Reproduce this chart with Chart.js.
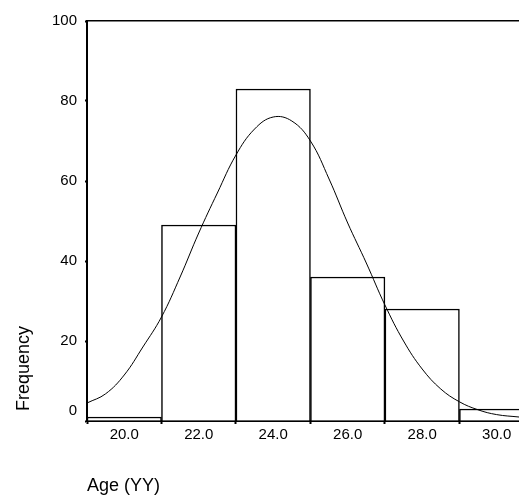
<!DOCTYPE html>
<html lang="en">
<head>
    <meta charset="UTF-8">
    <title>Age histogram</title>
    <script src="https://cdn.jsdelivr.net/npm/chart.js"></script>
    <style>
        body { margin: 0; background: #fff; }
        .chart-box { width: 519px; height: 497px; }
    </style>
</head>
<body>
    <div class="chart-box">
        <canvas id="ageChart"></canvas>
    </div>

    <script>
        // histogram bins (centre of each 2-year bin) and counts
        var binCentres = [20, 22, 24, 26, 28, 30];
        var binCounts = [1, 49, 83, 36, 28, 3];

        // normal curve
        var curveAges = [19, 19.5, 20, 20.5, 21, 21.5, 22, 22.5, 23, 23.5, 24, 24.5, 25, 25.5, 26, 26.5, 27, 27.5, 28, 28.5, 29, 29.5, 30, 30.6];
        var curveFreq = [4.5, 6.8, 11.5, 18.5, 26, 36, 47, 57, 66.5, 73, 76, 75, 70, 60.5, 49.5, 39.5, 29, 20, 13, 8, 4.8, 2.8, 1.6, 1];

        var xTicks = [20, 22, 24, 26, 28, 30];
        var yTicks = [0, 20, 40, 60, 80, 100];

        var tickFont = { family: '"Liberation Sans", Arial, sans-serif', size: 15 };
        var titleFont = { family: '"Liberation Sans", Arial, sans-serif', size: 18 };

        // SPSS lifts the "0" label above the x axis
        var zeroLabel = {
            id: 'zeroLabel',
            afterDraw: function (chart) {
                var ctx = chart.ctx;
                var y = chart.scales.y;
                ctx.save();
                ctx.font = '15px "Liberation Sans", Arial, sans-serif';
                ctx.fillStyle = '#000';
                ctx.textAlign = 'right';
                ctx.textBaseline = 'middle';
                ctx.fillText('0', y.right - 10, y.getPixelForValue(0) - 10);
                ctx.restore();
            }
        };

        var ctx = document.getElementById('ageChart').getContext('2d');
        var ageChart = new Chart(ctx, {
            type: 'bar',
            data: {
                datasets: [{
                    type: 'line',
                    data: curveAges.map(function (a, i) { return { x: a, y: curveFreq[i] }; }),
                    borderColor: '#000',
                    borderWidth: 1,
                    pointRadius: 0,
                    fill: false,
                    tension: 0.4,
                    order: 0
                }, {
                    type: 'bar',
                    data: binCentres.map(function (c, i) { return { x: c, y: binCounts[i] }; }),
                    backgroundColor: '#fff',
                    borderColor: '#000',
                    borderWidth: 1.5,
                    barPercentage: 1,
                    categoryPercentage: 1,
                    order: 1
                }]
            },
            options: {
                responsive: true,
                maintainAspectRatio: false,
                animation: false,
                layout: { padding: { top: 21, right: 0, left: 0, bottom: 0 } },
                plugins: {
                    legend: { display: false },
                    tooltip: { enabled: false }
                },
                scales: {
                    x: {
                        type: 'linear',
                        position: 'bottom',
                        offset: false,
                        min: 19,
                        max: 30.6,
                        afterBuildTicks: function (s) { s.ticks = xTicks.map(function (v) { return { value: v }; }); },
                        afterFit: function (s) { s.height = 76; },
                        ticks: {
                            color: '#000',
                            font: tickFont,
                            padding: 2,
                            maxRotation: 0,
                            callback: function (v) { return v.toFixed(1); }
                        },
                        grid: { drawOnChartArea: false, tickLength: 3, tickWidth: 2, tickColor: '#000' },
                        border: { color: '#000', width: 2 },
                        title: {
                            display: true,
                            text: 'Age (YY)',
                            align: 'start',
                            color: '#000',
                            font: titleFont,
                            padding: { top: 0, bottom: 0 }
                        }
                    },
                    x2: {
                        type: 'linear',
                        position: 'top',
                        min: 19,
                        max: 30.6,
                        afterFit: function (s) { s.height = 0; },
                        ticks: { display: false },
                        grid: { display: false },
                        border: { color: '#000', width: 1.5 }
                    },
                    y: {
                        min: 0,
                        max: 100,
                        afterBuildTicks: function (s) { s.ticks = yTicks.map(function (v) { return { value: v }; }); },
                        afterFit: function (s) { s.width = 87; },
                        ticks: {
                            color: '#000',
                            font: tickFont,
                            padding: 8,
                            callback: function (v) { return v === 0 ? '' : v; }
                        },
                        grid: { drawOnChartArea: false, tickLength: 2, tickWidth: 2, tickColor: '#000' },
                        border: { color: '#000', width: 2 },
                        title: {
                            display: true,
                            text: '  Frequency',
                            align: 'start',
                            color: '#000',
                            font: titleFont,
                            padding: { top: 13, bottom: 0 }
                        }
                    }
                }
            },
            plugins: [zeroLabel]
        });
    </script>
</body>
</html>
